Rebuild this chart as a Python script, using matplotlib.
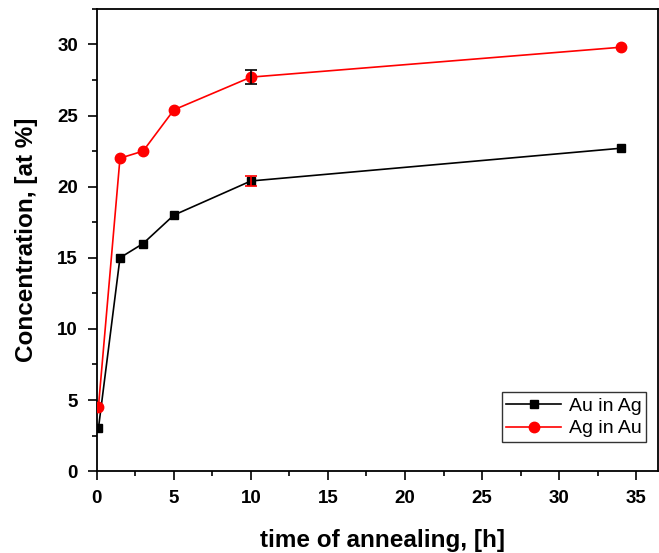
import matplotlib
matplotlib.use("Agg")
import matplotlib.pyplot as plt
from matplotlib.ticker import MultipleLocator

plt.rcParams['font.family'] = ['Liberation Sans', 'DejaVu Sans']

# annealing time, h
time_au = [0.1, 1.5, 3, 5, 10, 34]
conc_au = [3.0, 15.0, 16.0, 18.0, 20.4, 22.7]
err_au = [0, 0, 0, 0, 0.35, 0]

time_ag = [0.1, 1.5, 3, 5, 10, 34]
conc_ag = [4.5, 22.0, 22.5, 25.4, 27.7, 29.8]
err_ag = [0, 0, 0, 0, 0.5, 0]

fig = plt.figure(figsize=(6.59, 5.53), dpi=100)
ax = fig.add_axes([0.147, 0.148, 0.851, 0.836])

ax.plot(time_au, conc_au, color='black', lw=1.2, marker='s', ms=5.5,
        label='Au in Ag', zorder=3)
ax.plot(time_ag, conc_ag, color='red', lw=1.2, marker='o', ms=7.5,
        label='Ag in Au', zorder=3)

# error bars only on the 10 h measurement
ax.errorbar(time_au[4], conc_au[4], yerr=err_au[4], fmt='none',
            ecolor='red', elinewidth=1.2, capsize=4, capthick=1.2, zorder=4)
ax.errorbar(time_ag[4], conc_ag[4], yerr=err_ag[4], fmt='none',
            ecolor='black', elinewidth=1.2, capsize=4, capthick=1.2, zorder=4)

ax.set_xlim(0, 36.4)
ax.set_ylim(0, 32.5)
ax.xaxis.set_major_locator(MultipleLocator(5))
ax.xaxis.set_minor_locator(MultipleLocator(2.5))
ax.yaxis.set_major_locator(MultipleLocator(5))
ax.yaxis.set_minor_locator(MultipleLocator(2.5))
ax.tick_params(which='major', direction='out', length=6.5, width=1.2,
               labelsize=13.5, pad=7)
ax.tick_params(which='minor', direction='out', length=3.5, width=1.2)
for lab in ax.get_xticklabels() + ax.get_yticklabels():
    lab.set_fontweight('bold')
for sp in ax.spines.values():
    sp.set_linewidth(1.3)

ax.set_xlabel('time of annealing, [h]', fontsize=17.5, fontweight='bold',
              labelpad=16)
ax.xaxis.label.set_x(0.51)
ax.set_ylabel('Concentration, [at %]', fontsize=17.5, fontweight='bold',
              labelpad=14)

leg = ax.legend(loc='lower right', bbox_to_anchor=(0.99, 0.05),
                fontsize=14, frameon=True, fancybox=False,
                edgecolor='black', handlelength=2.8, borderpad=0.25,
                labelspacing=0.25, handletextpad=0.4, borderaxespad=0.3)
leg.get_frame().set_linewidth(1.0)

fig.savefig('out.png', dpi=100)
